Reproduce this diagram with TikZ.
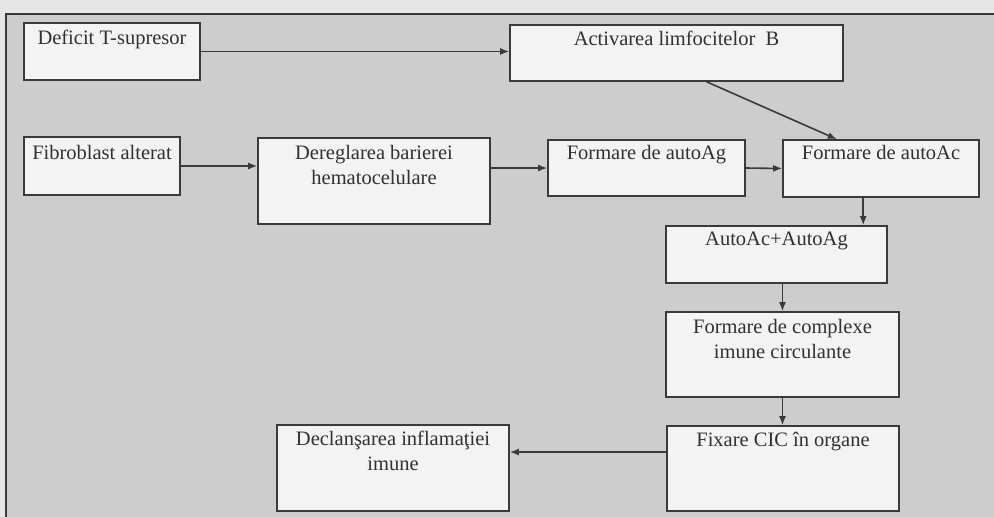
\documentclass[tikz,border=0pt]{standalone}
\usepackage{fontspec}
\setmainfont{Liberation Serif}
\usetikzlibrary{arrows.meta,calc}
\definecolor{bgout}{HTML}{E6E6E6}
\definecolor{bgin}{HTML}{CDCDCD}
\definecolor{ink}{HTML}{3A3A3A}
\definecolor{boxfill}{HTML}{F3F3F3}
\tikzset{
  box/.style={draw=ink, line width=1.6pt, fill=boxfill, inner sep=0pt, rectangle},
  lbl/.style={anchor=north, inner sep=0pt, align=center, text=ink!85!black,
    font=\fontsize{20.5}{25}\selectfont},
  conn/.style={draw=ink, line width=1.6pt, -{Latex[length=9pt,width=7pt]}}
}
\begin{document}
\begin{tikzpicture}[x=1pt,y=-1pt]
\useasboundingbox (0,0) rectangle (994,517);
\fill[bgout] (0,0) rectangle (994,517);
\fill[bgin] (6,14) rectangle (994,517);
\draw[ink, line width=1.8pt] (6,517) -- (6,14) -- (994,14);

% boxes
\node[box, minimum width=176pt, minimum height=57pt] (d) at (112,51.5) {};
\node[box, minimum width=333pt, minimum height=56pt] (a) at (676.5,53) {};
\node[box, minimum width=156pt, minimum height=58pt] (f) at (102,166) {};
\node[box, minimum width=232pt, minimum height=86pt] (dr) at (374,181) {};
\node[box, minimum width=197pt, minimum height=56pt] (ag) at (646.5,168) {};
\node[box, minimum width=196pt, minimum height=57pt] (ac) at (881,168.5) {};
\node[box, minimum width=221pt, minimum height=57pt] (aa) at (776.5,254.5) {};
\node[box, minimum width=233pt, minimum height=85pt] (cx) at (782.5,354.5) {};
\node[box, minimum width=232pt, minimum height=85pt] (fx) at (783,468.5) {};
\node[box, minimum width=232pt, minimum height=86pt] (dc) at (393,468) {};

% texts
\node[lbl] (dt) at ([yshift=-8pt]d.north) {Deficit T-supresor};
\node[lbl] (at) at ([yshift=-7pt]a.north) {Activarea limfocitelor\ \ B};
\node[lbl] (ft) at ([yshift=-9pt]f.north) {Fibroblast alterat};
\node[lbl] (drt) at ([yshift=-8pt]dr.north) {Dereglarea barierei\\hematocelulare};
\node[lbl] (agt) at ([yshift=-6pt]ag.north) {Formare de autoAg};
\node[lbl] (act) at ([yshift=-6pt]ac.north) {Formare de autoAc};
\node[lbl] (aat) at ([yshift=-7pt]aa.north) {AutoAc+AutoAg};
\node[lbl] (cxt) at ([yshift=-8pt]cx.north) {Formare de complexe\\imune circulante};
\node[lbl] (fxt) at ([yshift=-7pt]fx.north) {Fixare CIC în organe};
\node[lbl] (dct) at ([yshift=-7pt]dc.north) {Declanşarea inflamaţiei\\imune};

% connectors
\draw[conn] (d.east) -- (d.east -| a.west);
\draw[conn] (f.east) -- (f.east -| dr.west);
\draw[conn] (ag.west -| dr.east) -- (ag.west);
\draw[conn] (ag.east) -- (ac.west);
\coordinate (a1) at ($(a.south west)!0.59!(a.south east)$);
\coordinate (a2) at ($(ac.north west)!0.276!(ac.north east)$);
\draw[conn] (a1) -- (a2);
\coordinate (c1) at ($(ac.south west)!0.41!(ac.south east)$);
\draw[conn] (c1) -- (c1 |- aa.north);
\draw[conn] (aa.south -| cx.north) -- (cx.north);
\draw[conn] (cx.south) -- (cx.south |- fx.north);
\coordinate (e1) at ($(fx.north west)!0.31!(fx.south west)$);
\draw[conn] (e1) -- (e1 -| dc.east);
\end{tikzpicture}
\end{document}
